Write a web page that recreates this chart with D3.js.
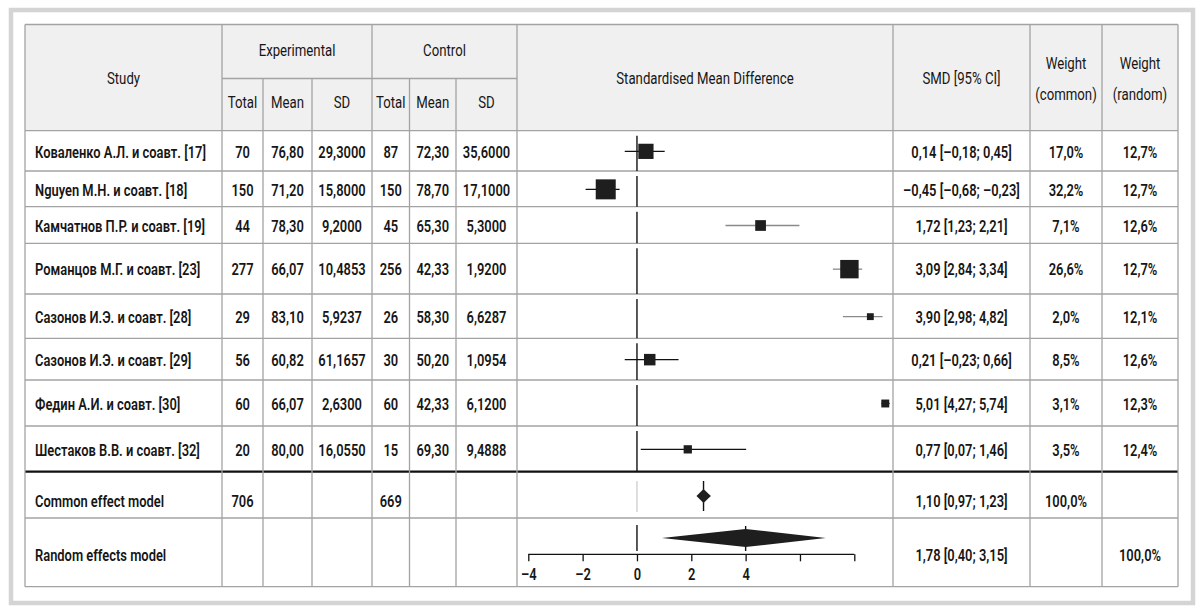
<!DOCTYPE html>
<html><head><meta charset="utf-8">
<script src="https://cdn.jsdelivr.net/npm/d3@7"></script>
<style>
html,body{margin:0;padding:0;background:#fff;}
svg text{font-family:Roboto,"Open Sans",sans-serif;fill:#161616;}
</style></head>
<body>
<svg id="chart" width="1200" height="613"></svg>
<script>
// ---------- data ----------
const studies = ["Коваленко А.Л. и соавт. [17]","Nguyen M.H. и соавт. [18]","Камчатнов П.Р. и соавт. [19]","Романцов М.Г. и соавт. [23]","Сазонов И.Э. и соавт. [28]","Сазонов И.Э. и соавт. [29]","Федин А.И. и соавт. [30]","Шестаков В.В. и соавт. [32]"];
const expTotal = ["70","150","44","277","29","56","60","20"];
const expMean = ["76,80","71,20","78,30","66,07","83,10","60,82","66,07","80,00"];
const expSD = ["29,3000","15,8000","9,2000","10,4853","5,9237","61,1657","2,6300","16,0550"];
const ctrlTotal = ["87","150","45","256","26","30","60","15"];
const ctrlMean = ["72,30","78,70","65,30","42,33","58,30","50,20","42,33","69,30"];
const ctrlSD = ["35,6000","17,1000","5,3000","1,9200","6,6287","1,0954","6,1200","9,4888"];
const smdLabels = ["0,14 [–0,18; 0,45]","–0,45 [–0,68; –0,23]","1,72 [1,23; 2,21]","3,09 [2,84; 3,34]","3,90 [2,98; 4,82]","0,21 [–0,23; 0,66]","5,01 [4,27; 5,74]","0,77 [0,07; 1,46]"];
const weightCommonLabels = ["17,0%","32,2%","7,1%","26,6%","2,0%","8,5%","3,1%","3,5%"];
const weightRandomLabels = ["12,7%","12,7%","12,6%","12,7%","12,1%","12,6%","12,3%","12,4%"];
const weightCommon = [17.0,32.2,7.1,26.6,2.0,8.5,3.1,3.5];
// positions of the marks as drawn on the plot axis
const plotEst = [0.33,-1.15,4.55,7.82,8.59,0.47,9.14,1.87];
const plotLo  = [-0.45,-1.89,3.26,7.21,7.58,-0.45,9.0,0.14];
const plotHi  = [1.02,-0.64,5.98,8.29,9.04,1.53,9.3,4.02];

const summaryLabels = ["Common effect model","Random effects model"];
const summaryExpTotal = ["706",""];
const summaryCtrlTotal = ["669",""];
const summarySmd = ["1,10 [0,97; 1,23]","1,78 [0,40; 3,15]"];
const summaryWCommon = ["100,0%",""];
const summaryWRandom = ["","100,0%"];
const summaryEst = [2.45,4.0];
const summaryLo = [2.19,0.92];
const summaryHi = [2.72,6.95];

const axisTicks = [-4,-2,0,2,4,6,8];
const axisTickLabels = ["–4","–2","0","2","4","",""];

// ---------- layout ----------
const colEdges = [25,222,263,312,372,409.5,456,517,893,1030,1102,1178];
const headTop = 24.5, subLine = 78.5, headBottom = 130.7;
const rowEdges = [130.7,171,206.7,243.3,294,338.3,380,426,471.7,518,586.7];
const FS = 17, FSH = 16.5, SX_H = 0.8, SX_R = 0.76, RW = 600, HW = 400;

const svg = d3.select("#chart");
const grid = "#a3a3a3";

svg.append("rect").attr("x",11).attr("y",10).attr("width",1182).attr("height",593)
  .attr("fill","none").attr("stroke","#d4d4d4").attr("stroke-width",4.5);

svg.append("rect").attr("x",colEdges[0]).attr("y",headTop).attr("width",colEdges[11]-colEdges[0]).attr("height",headBottom-headTop)
  .attr("fill","#f0f0f0");

const hl = (x1,x2,y,color,w)=>svg.append("line").attr("x1",x1).attr("x2",x2).attr("y1",y).attr("y2",y).attr("stroke",color).attr("stroke-width",w);
const vl = (x,y1,y2,color,w)=>svg.append("line").attr("x1",x).attr("x2",x).attr("y1",y1).attr("y2",y2).attr("stroke",color).attr("stroke-width",w);

hl(colEdges[0],colEdges[11],headTop,grid,1.3);
hl(colEdges[1],colEdges[7],subLine,grid,1.3);
rowEdges.forEach((y,i)=>{
  if(i===8) hl(colEdges[0],colEdges[11],y,"#111",2.2);
  else hl(colEdges[0],colEdges[11],y,grid,1.3);
});
colEdges.forEach((x,i)=>{
  if([2,3,5,6].includes(i)) vl(x,subLine,rowEdges[10],grid,1.3);
  else vl(x,headTop,rowEdges[10],grid,1.3);
});

const T = (x,y,s,anchor="middle",weight=RW,sx=SX_R,fs=FS)=>svg.append("text")
  .attr("transform",`translate(${x},${y}) scale(${sx},1)`).attr("text-anchor",anchor)
  .attr("dominant-baseline","middle").attr("font-size",fs).attr("font-weight",weight).text(s);
const H = (x,y,s)=>T(x,y,s,"middle",HW,SX_H,FSH);
const mid = (a,b)=>(colEdges[a]+colEdges[b])/2;
H(mid(0,1),80,"Study");
H(mid(1,4),52,"Experimental");
H(mid(4,7),52,"Control");
["Total","Mean","SD","Total","Mean","SD"].forEach((s,i)=>H(mid(i+1,i+2),104,s));
H(mid(7,8),80,"Standardised Mean Difference");
H(mid(8,9),80,"SMD [95% CI]");
H(mid(9,10),65,"Weight"); H(mid(9,10),96,"(common)");
H(mid(10,11),65,"Weight"); H(mid(10,11),96,"(random)");

const x = d3.scaleLinear().domain([-4,8]).range([528.3,854.3]);
const size = d3.scaleLinear().domain([0,Math.sqrt(d3.max(weightCommon))]).range([2.5,20]);

studies.forEach((s,i)=>{
  const y0 = rowEdges[i], y1 = rowEdges[i+1], ym = (y0+y1)/2 + 0.5, ty = ym + 1.8;
  T(35,ty,s,"start");
  [expTotal,expMean,expSD,ctrlTotal,ctrlMean,ctrlSD].forEach((arr,j)=>T(mid(j+1,j+2),ty,arr[i]));
  T(mid(8,9),ty,smdLabels[i]);
  T(mid(9,10),ty,weightCommonLabels[i]);
  T(mid(10,11),ty,weightRandomLabels[i]);
  vl(x(0),y0+5,y1,"#111",1.4);
  const wc = (i>=2 && i<=4) ? "#8a8a8a" : "#111";
  svg.append("line").attr("x1",x(plotLo[i])).attr("x2",x(plotHi[i])).attr("y1",ym).attr("y2",ym)
    .attr("stroke",wc).attr("stroke-width",1.3);
  const sz = size(Math.sqrt(weightCommon[i]));
  svg.append("rect").attr("x",x(plotEst[i])-sz/2).attr("y",ym-sz/2).attr("width",sz).attr("height",sz).attr("fill","#1e1e1e");
});

summaryLabels.forEach((s,k)=>{
  const ty = k===0 ? 502.5 : 556.5;
  T(35,ty,s,"start");
  T(mid(1,2),ty,summaryExpTotal[k]);
  T(mid(4,5),ty,summaryCtrlTotal[k]);
  T(mid(8,9),ty,summarySmd[k]);
  T(mid(9,10),ty,summaryWCommon[k]);
  T(mid(10,11),ty,summaryWRandom[k]);
});
{
  const yc = 496, h = 7;
  vl(x(0),481,512,"#c8c8c8",1.2);
  vl(x(summaryEst[0]),481,511,"#111",1.4);
  svg.append("path").attr("d",`M${x(summaryLo[0])},${yc}L${x(summaryEst[0])},${yc-h}L${x(summaryHi[0])},${yc}L${x(summaryEst[0])},${yc+h}Z`).attr("fill","#1e1e1e");
}
{
  const yc = 538, h = 9;
  vl(x(0),525,551,"#111",1.4);
  vl(x(summaryEst[1]),526,551,"#111",1.4);
  svg.append("path").attr("d",`M${x(summaryLo[1])},${yc}L${x(summaryEst[1])},${yc-h}L${x(summaryHi[1])},${yc}L${x(summaryEst[1])},${yc+h}Z`).attr("fill","#1e1e1e");
}

const axisG = svg.append("g").attr("transform","translate(0,554.3)");
const axis = d3.axisBottom(x).tickValues(axisTicks).tickSize(7).tickFormat((d,i)=>axisTickLabels[i]);
axisG.call(axis);
axisG.select(".domain").attr("d",`M${x(-4)},0H${x(8)}`).attr("stroke","#111").attr("stroke-width",1.3);
axisG.selectAll(".tick line").attr("stroke","#111").attr("stroke-width",1.3);
axisG.selectAll(".tick text").attr("font-size",FS).attr("font-weight",RW).attr("fill","#161616")
  .attr("font-family","Roboto,sans-serif").attr("y",0).attr("dy",null)
  .attr("transform",`translate(0,21) scale(${SX_R},1)`).attr("dominant-baseline","middle");
</script>
</body></html>
